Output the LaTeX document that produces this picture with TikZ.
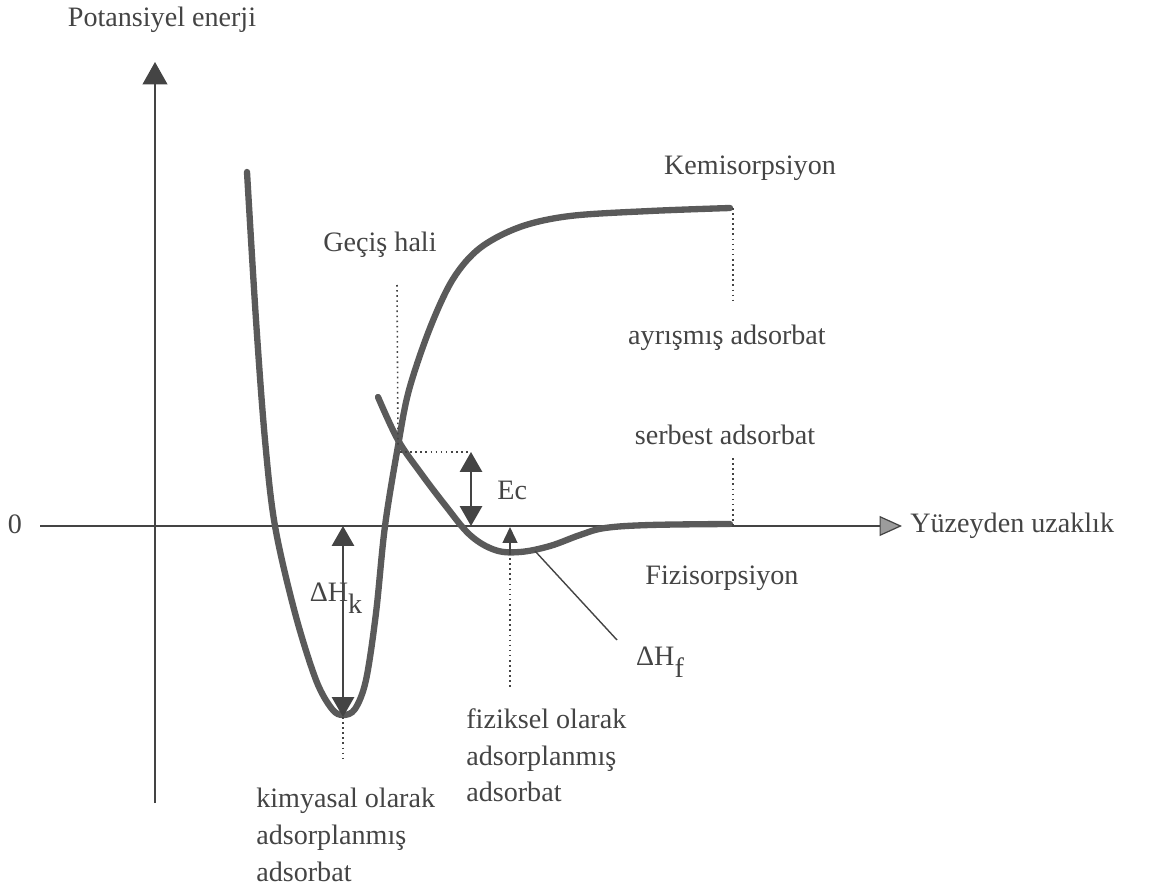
\documentclass[tikz,border=0pt]{standalone}
\usepackage{fontspec}
\setmainfont{Liberation Serif}
\usetikzlibrary{arrows.meta, positioning}
\definecolor{CurveGray}{HTML}{5A5A5A}
\definecolor{InkGray}{HTML}{444444}
\tikzset{
    curve/.style={
        line width=3.6pt,
        CurveGray,
        line cap=round,
        line join=round
    },
    axis/.style={
        -{Triangle[width=0.5cm,length=0.45cm]},
        line width=0.7pt,
        InkGray
    },
    dimarrow/.style={
        {Triangle[width=0.45cm,length=0.4cm]}-{Triangle[width=0.45cm,length=0.4cm]},
        line width=0.8pt,
        InkGray
    },
    guide/.style={
        dotted,
        line width=0.9pt,
        InkGray
    },
    lbl/.style={
        font=\fontsize{16}{21}\selectfont,
        text=InkGray,
        inner sep=0pt,
        align=left
    }
}

\begin{document}
\begin{tikzpicture}[x=0.02cm, y=-0.02cm]
    \useasboundingbox (0,0) rectangle (1149,888);

    % Axes
    \coordinate (yfoot) at (155,803);
    \coordinate (ytop) at (155,62);
    \coordinate (xstart) at (40,526);
    \coordinate (xend) at (902,526);
    \draw[axis] (yfoot) -- (ytop);
    \draw[axis, -{Triangle[width=0.4cm,length=0.45cm,fill=CurveGray!60]}] (xstart) -- (xend);
    \node[lbl] (ylabel) at (162,20) {Potansiyel enerji};
    \node[lbl] (zero) at (15,524) {0};
    \node[lbl, anchor=west] (xlabel) at (910,526) {Yüzeyden uzaklık};

    % Curves
    \draw[curve] plot[smooth, tension=0.55] coordinates {
        (247,172) (256,320) (265,440) (275,526) (295,613) (316,680) (332,709)
        (343,715) (355,709) (366,680) (376,613) (385,526) (398,446) (409,390) (430,328)
        (453,279) (480,248) (520,227) (570,216) (650,211) (730,208)};
    \draw[curve] plot[smooth, tension=0.6] coordinates {
        (378,397) (398,440) (420,472) (445,505) (470,535) (495,550) (520,552)
        (550,546) (580,535) (605,528) (650,525) (730,524)};

    % Key points
    \coordinate (cross) at (398,446);
    \coordinate (chemmin) at (343,717);
    \coordinate (physmin) at (510,553);
    \coordinate (chemend) at (733,208);
    \coordinate (physend) at (733,526);

    % Transition state
    \node[lbl] (gecis) at (380,245) {Geçiş hali};
    \draw[guide] (397,285) -- (cross);
    \coordinate (ectop) at (471,452);
    \coordinate (ecbot) at (471,526);
    \draw[guide] (400,452) -- (ectop);
    \draw[dimarrow] (ectop) -- (ecbot);
    \node[lbl, anchor=west] (ec) at (497,490) {Ec};

    % Chemisorption well
    \coordinate (hktop) at (343,526);
    \draw[dimarrow] (hktop) -- (chemmin);
    \node[lbl] (hk) at (336,598) {ΔH\raisebox{-0.9ex}{k}};
    \draw[guide] (chemmin) -- (343,762);
    \node[lbl, anchor=north west] (kimyasal) at (256,788) {kimyasal olarak\\adsorplanmış\\adsorbat};

    % Physisorption well
    \coordinate (hftop) at (510,527);
    \draw[-{Triangle[width=0.3cm,length=0.32cm]}, line width=0.8pt, InkGray] (physmin) -- (hftop);
    \draw[guide] (physmin) -- (510,690);
    \node[lbl, anchor=north west] (fiziksel) at (466,708) {fiziksel olarak\\adsorplanmış\\adsorbat};
    \node[lbl] (hf) at (660,662) {ΔH\raisebox{-0.9ex}{f}};
    \coordinate (leadstart) at (535,551);
    \coordinate (leadend) at (617,640);
    \draw[line width=0.8pt, InkGray] (leadstart) -- (leadend);

    % Right-hand labels
    \node[lbl] (kemi) at (750,168) {Kemisorpsiyon};
    \draw[guide] (chemend) -- (733,300);
    \node[lbl] (ayrisma) at (727,338) {ayrışmış adsorbat};
    \node[lbl] (serbest) at (725,435) {serbest adsorbat};
    \draw[guide] (733,458) -- (physend);
    \node[lbl] (fizi) at (722,578) {Fizisorpsiyon};
\end{tikzpicture}
\end{document}
